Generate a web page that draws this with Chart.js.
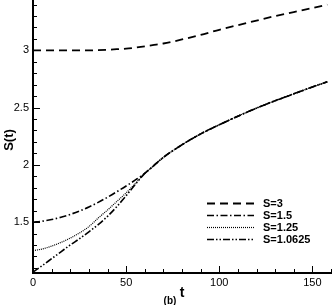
<!DOCTYPE html>
<html>
<head>
<meta charset="utf-8">
<script src="https://cdn.jsdelivr.net/npm/chart.js@4.4.1/dist/chart.umd.min.js"></script>
<style>
  html, body { margin: 0; padding: 0; background: #fff; }
  #wrap { width: 332px; height: 305px; }
</style>
</head>
<body>
<div id="wrap"><canvas id="chart" width="332" height="305"></canvas></div>
<script>
// values
const tValues = [0, 5, 10, 15, 20, 25, 30, 35, 40, 45, 50, 55, 60, 65, 70, 80, 90, 100, 110, 120, 130, 140, 150, 158];
const s3 = [3.0, 3.0, 3.0, 3.0, 3.0, 3.0, 3.0, 3.002, 3.005, 3.01, 3.015, 3.024, 3.035, 3.047, 3.06, 3.095, 3.135, 3.18, 3.22, 3.26, 3.30, 3.335, 3.37, 3.40];
const s15 = [1.5, 1.508, 1.522, 1.542, 1.567, 1.597, 1.632, 1.672, 1.717, 1.765, 1.815, 1.868, 1.925, 1.995, 2.065, 2.175, 2.27, 2.35, 2.425, 2.495, 2.56, 2.62, 2.68, 2.725];
const s125 = [1.25, 1.265, 1.29, 1.322, 1.36, 1.405, 1.46, 1.535, 1.605, 1.68, 1.755, 1.838, 1.925, 1.995, 2.065, 2.175, 2.27, 2.35, 2.425, 2.495, 2.56, 2.62, 2.68, 2.725];
const s10625 = [1.0625, 1.12, 1.18, 1.24, 1.3, 1.355, 1.415, 1.478, 1.55, 1.635, 1.73, 1.83, 1.925, 1.995, 2.065, 2.175, 2.27, 2.35, 2.425, 2.495, 2.56, 2.62, 2.68, 2.725];
const seriesLabels = ["S=3", "S=1.5", "S=1.25", "S=1.0625"];
const xTicks = [0, 50, 100, 150];
const yTicks = [1.5, 2, 2.5, 3];

const FONT = "'Liberation Sans', Arial, Helvetica, sans-serif";

function pts(ys) {
  return tValues.map((t, i) => ({ x: t, y: ys[i] }));
}

function makeSet(label, ys, dash, width) {
  return {
    label: label,
    data: pts(ys),
    borderColor: "#000",
    borderWidth: width,
    borderDash: dash,
    pointRadius: 0,
    fill: false,
    cubicInterpolationMode: "monotone"
  };
}

function noPad(s) {
  s.paddingTop = 0;
  s.paddingBottom = 0;
  s.paddingLeft = 0;
  s.paddingRight = 0;
}

// inward tick marks, legend box and titles
const decor = {
  id: "decor",
  afterDraw(chart) {
    const ctx = chart.ctx;
    const xs = chart.scales.x, ys = chart.scales.y;
    const area = chart.chartArea;
    ctx.save();
    ctx.strokeStyle = "#000";
    ctx.lineWidth = 1;
    // x ticks
    for (let v = 0; v <= 160; v += 10) {
      const px = Math.round(xs.getPixelForValue(v)) + 0.5;
      const len = v % 50 === 0 ? 7 : 4;
      ctx.beginPath();
      ctx.moveTo(px, area.bottom);
      ctx.lineTo(px, area.bottom - len);
      ctx.stroke();
    }
    // y ticks
    for (let k = 11; k <= 34; k++) {
      const v = k / 10;
      const py = Math.round(ys.getPixelForValue(v)) + 0.5;
      const len = k % 5 === 0 ? 7 : 4;
      ctx.beginPath();
      ctx.moveTo(area.left, py);
      ctx.lineTo(area.left + len, py);
      ctx.stroke();
    }

    // legend
    const lx = 207, lw = 47;
    let ly = 203;
    ctx.font = "bold 11px " + FONT;
    ctx.fillStyle = "#000";
    ctx.textBaseline = "middle";
    chart.data.datasets.forEach((ds) => {
      ctx.save();
      ctx.lineWidth = ds.borderWidth;
      ctx.setLineDash(ds.borderDash);
      ctx.beginPath();
      ctx.moveTo(lx, ly + 0.5);
      ctx.lineTo(lx + lw, ly + 0.5);
      ctx.stroke();
      ctx.restore();
      ctx.fillText(ds.label, 263, ly + 1);
      ly += 12;
    });

    // axis titles
    ctx.textAlign = "center";
    ctx.textBaseline = "alphabetic";
    ctx.font = "bold 14px " + FONT;
    ctx.fillText("t", 182, 297);
    ctx.font = "bold 10px " + FONT;
    ctx.fillText("(b)", 170, 304);
    ctx.save();
    ctx.translate(13, 140);
    ctx.rotate(-Math.PI / 2);
    ctx.font = "bold 13px " + FONT;
    ctx.fillText("S(t)", 0, 0);
    ctx.restore();
    ctx.restore();
  }
};

new Chart(document.getElementById("chart").getContext("2d"), {
  type: "line",
  data: {
    datasets: [
      makeSet(seriesLabels[0], s3, [8, 5], 1.8),
      makeSet(seriesLabels[1], s15, [7, 2.5, 1.5, 2.5], 1.6),
      makeSet(seriesLabels[2], s125, [1, 1], 1.2),
      makeSet(seriesLabels[3], s10625, [7, 2, 1.5, 2, 1.5, 2], 1.6)
    ]
  },
  options: {
    responsive: false,
    animation: false,
    devicePixelRatio: 1,
    layout: { padding: { left: 0, right: 1, top: 0, bottom: 0 } },
    plugins: { legend: { display: false }, tooltip: { enabled: false } },
    scales: {
      x: {
        type: "linear",
        min: 0,
        max: 160,
        afterBuildTicks: (s) => { s.ticks = xTicks.map((v) => ({ value: v })); },
        afterFit: (s) => { s.height = 32; noPad(s); },
        grid: { display: false, drawTicks: false, tickLength: 0 },
        border: { display: true, width: 2, color: "#000" },
        ticks: { color: "#000", padding: 3, maxRotation: 0, font: { family: FONT, size: 11 } }
      },
      y: {
        type: "linear",
        min: 1.055,
        max: 3.44,
        afterBuildTicks: (s) => { s.ticks = yTicks.map((v) => ({ value: v })); },
        afterFit: (s) => { s.width = 33; noPad(s); },
        grid: { display: false, drawTicks: false, tickLength: 0 },
        border: { display: true, width: 2, color: "#000" },
        ticks: {
          color: "#000",
          padding: 4,
          font: { family: FONT, size: 11 },
          callback: (v) => String(v)
        }
      }
    }
  },
  plugins: [decor]
});
</script>
</body>
</html>
